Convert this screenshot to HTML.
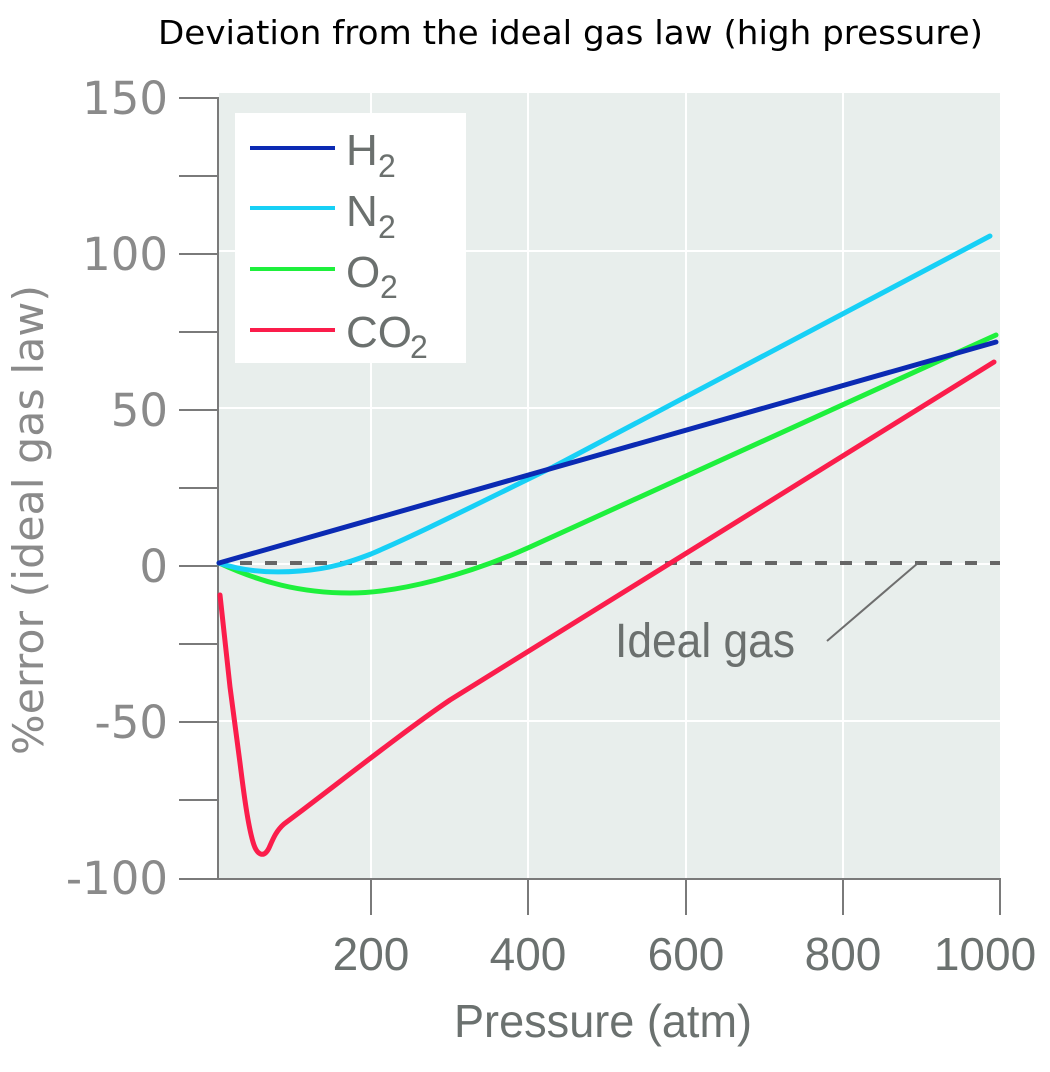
<!DOCTYPE html>
<html>
<head>
<meta charset="utf-8">
<style>
  html,body{margin:0;padding:0;background:#fff;}
  svg{display:block;}
</style>
</head>
<body>
<svg width="1050" height="1072" viewBox="0 0 1050 1072" xmlns="http://www.w3.org/2000/svg">
  <rect x="0" y="0" width="1050" height="1072" fill="#ffffff"/>
  <!-- title -->
  <text x="158" y="44" font-family="DejaVu Sans, sans-serif" font-size="33" fill="#000" textLength="825" lengthAdjust="spacingAndGlyphs">Deviation from the ideal gas law (high pressure)</text>

  <!-- plot background -->
  <rect x="219" y="93" width="781" height="786" fill="#e8eeec"/>
  <!-- grid -->
  <g stroke="#ffffff" stroke-width="2">
    <line x1="371" y1="93" x2="371" y2="879"/>
    <line x1="528" y1="93" x2="528" y2="879"/>
    <line x1="686" y1="93" x2="686" y2="879"/>
    <line x1="843" y1="93" x2="843" y2="879"/>
    <line x1="219" y1="251" x2="1000" y2="251"/>
    <line x1="219" y1="408" x2="1000" y2="408"/>
    <line x1="219" y1="564" x2="1000" y2="564"/>
    <line x1="219" y1="721" x2="1000" y2="721"/>
  </g>

  <!-- axes -->
  <g stroke="#7a7a7a" stroke-width="2" fill="none">
    <line x1="218" y1="97" x2="218" y2="880"/>
    <line x1="217" y1="879" x2="1001" y2="879"/>
    <line x1="179" y1="98" x2="218" y2="98"/>
    <line x1="179" y1="176" x2="218" y2="176"/>
    <line x1="179" y1="254" x2="218" y2="254"/>
    <line x1="179" y1="332" x2="218" y2="332"/>
    <line x1="179" y1="410" x2="218" y2="410"/>
    <line x1="179" y1="488" x2="218" y2="488"/>
    <line x1="179" y1="566" x2="218" y2="566"/>
    <line x1="179" y1="644" x2="218" y2="644"/>
    <line x1="179" y1="722" x2="218" y2="722"/>
    <line x1="179" y1="800" x2="218" y2="800"/>
    <line x1="179" y1="879" x2="218" y2="879"/>
    <line x1="371" y1="879" x2="371" y2="915"/>
    <line x1="528" y1="879" x2="528" y2="915"/>
    <line x1="686" y1="879" x2="686" y2="915"/>
    <line x1="843" y1="879" x2="843" y2="915"/>
    <line x1="1000" y1="879" x2="1000" y2="915"/>
  </g>

  <!-- y tick labels -->
  <g font-family="DejaVu Sans, sans-serif" font-size="45" fill="#8a8a8a" text-anchor="end">
    <text x="168" y="114">150</text>
    <text x="168" y="270">100</text>
    <text x="168" y="426">50</text>
    <text x="168" y="582">0</text>
    <text x="168" y="738">-50</text>
    <text x="168" y="894">-100</text>
  </g>

  <!-- y axis title -->
  <text transform="translate(43,520) rotate(-90)" text-anchor="middle" font-family="DejaVu Sans, sans-serif" font-size="42" fill="#8a8a8a" textLength="470" lengthAdjust="spacingAndGlyphs">%error (ideal gas law)</text>

  <!-- x tick labels -->
  <g font-family="Liberation Sans, sans-serif" font-size="46" fill="#6b716f" text-anchor="middle">
    <text x="371" y="970">200</text>
    <text x="528" y="970">400</text>
    <text x="686" y="970">600</text>
    <text x="843" y="970">800</text>
    <text x="985" y="970">1000</text>
  </g>
  <text x="454" y="1037" font-family="Liberation Sans, sans-serif" font-size="46" fill="#6b716f" textLength="298" lengthAdjust="spacingAndGlyphs">Pressure (atm)</text>

  <!-- ideal gas dashed line -->
  <line x1="240" y1="563" x2="1000" y2="563" stroke="#666666" stroke-width="4" stroke-dasharray="12 13"/>
  <line x1="827" y1="641" x2="918" y2="563" stroke="#6e6e6e" stroke-width="2"/>
  <text x="615" y="657" font-family="Liberation Sans, sans-serif" font-size="48" fill="#6b706e" textLength="180" lengthAdjust="spacingAndGlyphs">Ideal gas</text>

  <!-- series -->
  <g fill="none" stroke-width="5" stroke-linecap="round" stroke-linejoin="round">
    <path stroke="#fb1d4b" d="M220,595 L230,687 L240,763 C244,795 248,825 253,842 C257,856 264,858 269,848 C273,839 276,831 284,824 L300,812 C350,774 410,727 450,700 L994,362"/>
    <path stroke="#1ef03c" d="M219,563 C260,582 300,593 350,593 C400,593 470,574 530,547 L996,335"/>
    <path stroke="#17d0f6" d="M219,563 C245,572 275,573 300,571 C330,569 350,562 371,554 C420,533 475,505 553,467 L990,236"/>
    <line stroke="#0b2ab3" x1="219" y1="563" x2="996" y2="342"/>
  </g>

  <!-- legend -->
  <rect x="235" y="113" width="231" height="250" fill="#ffffff"/>
  <g stroke-width="4">
    <line x1="250" y1="148" x2="335" y2="148" stroke="#0b2ab3"/>
    <line x1="250" y1="208" x2="335" y2="208" stroke="#17d0f6"/>
    <line x1="250" y1="269" x2="335" y2="269" stroke="#1ef03c"/>
    <line x1="250" y1="330" x2="335" y2="330" stroke="#fb1d4b"/>
  </g>
  <g font-family="Liberation Sans, sans-serif" fill="#6b706e">
    <text x="346" y="165" font-size="44">H</text>
    <text x="378" y="177" font-size="32">2</text>
    <text x="346" y="226" font-size="44">N</text>
    <text x="378" y="238" font-size="32">2</text>
    <text x="346" y="287" font-size="44">O</text>
    <text x="380" y="298" font-size="32">2</text>
    <text x="346" y="347" font-size="44">CO</text>
    <text x="410" y="358" font-size="32">2</text>
  </g>
</svg>
</body>
</html>
